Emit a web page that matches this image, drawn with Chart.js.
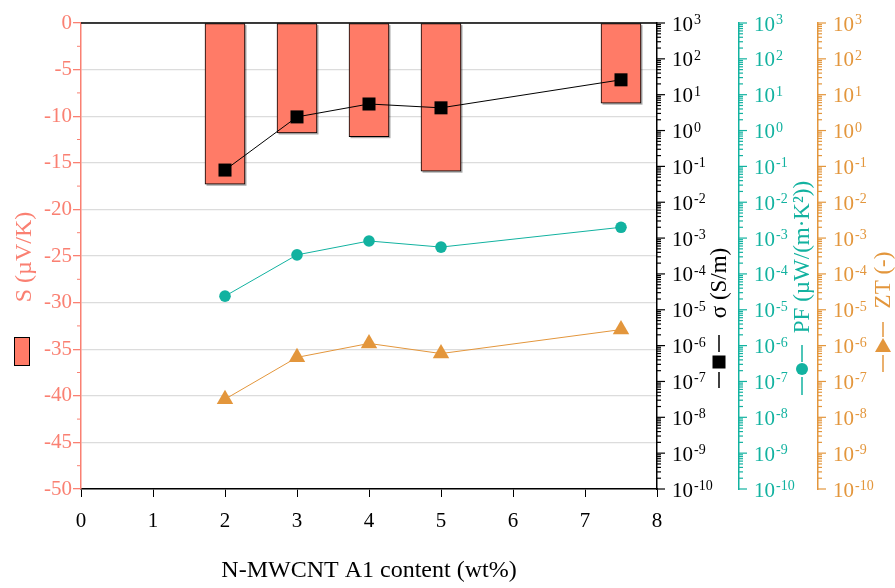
<!DOCTYPE html>
<html>
<head>
<meta charset="utf-8">
<script src="https://cdn.jsdelivr.net/npm/chart.js@4.4.1/dist/chart.umd.min.js"></script>
<style>
html, body { margin: 0; padding: 0; background: #fff; }
#wrap { width: 895px; height: 588px; }
</style>
</head>
<body>
<div id="wrap"><canvas id="chart" width="895" height="588"></canvas></div>
<script>
// values
const contents = [2, 3, 4, 5, 7.5];                         // N-MWCNT A1 content (wt%)
const seebeck = [-17.3, -11.8, -12.2, -15.9, -8.6];          // S (µV/K)
const sigma = [0.079, 2.4, 5.5, 4.3, 26];                    // σ (S/m)
const powerFactor = [2.4e-5, 3.4e-4, 8.3e-4, 5.6e-4, 2.0e-3]; // PF (µW/(m·K²))
const zt = [3.2e-8, 4.7e-7, 1.15e-6, 6.0e-7, 2.8e-6];        // ZT (-)

const xTicks = [0, 1, 2, 3, 4, 5, 6, 7, 8];
const sTicks = [0, -5, -10, -15, -20, -25, -30, -35, -40, -45, -50];
const logExponents = [3, 2, 1, 0, -1, -2, -3, -4, -5, -6, -7, -8, -9, -10];

const FONT = '"Liberation Serif", "Times New Roman", serif';
const SALMON = "#FA8072";
const BAR = "#FF7B67";
const TEAL = "#12B2A0";
const ORANGE = "#E3963C";

const pts = (ys) => contents.map((x, i) => ({ x: x, y: ys[i] }));

function vline(ctx, x, y1, y2) {
    ctx.beginPath(); ctx.moveTo(x, y1); ctx.lineTo(x, y2); ctx.stroke();
}
function hline(ctx, x1, x2, y) {
    ctx.beginPath(); ctx.moveTo(x1, y); ctx.lineTo(x2, y); ctx.stroke();
}
function rotatedText(ctx, text, cx, cy, size, color) {
    ctx.save();
    ctx.translate(cx, cy);
    ctx.rotate(-Math.PI / 2);
    ctx.font = size + "px " + FONT;
    ctx.fillStyle = color;
    ctx.textAlign = "center";
    ctx.textBaseline = "middle";
    ctx.fillText(text, 0, 0);
    ctx.restore();
}

// bar shadow (grey edge right and bottom), drawn under the bars
const shadowPlugin = {
    id: "barShadow",
    beforeDatasetsDraw(chart) {
        const ctx = chart.ctx;
        const meta = chart.getDatasetMeta(0);
        ctx.save();
        ctx.fillStyle = "rgba(0,0,0,0.35)";
        meta.data.forEach(bar => {
            const left = bar.x - bar.width / 2;
            const top = Math.min(bar.y, bar.base);
            const h = Math.abs(bar.base - bar.y);
            ctx.fillRect(left + 1.5, top + 1.5, bar.width, h);
        });
        ctx.restore();
    }
};

// ticks, labels, titles and legend keys that Chart.js cannot draw itself
const decorPlugin = {
    id: "decor",
    afterDraw(chart) {
        const ctx = chart.ctx;
        const area = chart.chartArea;
        const yS = chart.scales.yS;
        ctx.save();

        // top frame
        ctx.strokeStyle = "#000";
        ctx.lineWidth = 1.5;
        hline(ctx, area.left, area.right, area.top);

        // minor ticks on S axis
        ctx.strokeStyle = SALMON;
        ctx.lineWidth = 1;
        for (let i = 0; i < sTicks.length - 1; i++) {
            const y = yS.getPixelForValue((sTicks[i] + sTicks[i + 1]) / 2);
            hline(ctx, area.left - 4, area.left, y);
        }

        // log axes: ticks and 10^n labels
        [["ySig", "#000"], ["yPF", TEAL], ["yZT", ORANGE]].forEach(([id, color]) => {
            const sc = chart.scales[id];
            const x0 = sc.left;
            ctx.strokeStyle = color;
            ctx.fillStyle = color;
            ctx.lineWidth = 1.2;
            logExponents.forEach(e => {
                const y = sc.getPixelForValue(Math.pow(10, e));
                hline(ctx, x0, x0 + 8, y);
                if (e < 3) {
                    for (let m = 2; m <= 9; m++) {
                        const ym = sc.getPixelForValue(m * Math.pow(10, e));
                        hline(ctx, x0, x0 + 4, ym);
                    }
                }
                ctx.font = "21px " + FONT;
                ctx.textAlign = "left";
                ctx.textBaseline = "middle";
                const lx = x0 + 15;
                ctx.fillText("10", lx, y + 2);
                const w = ctx.measureText("10").width;
                ctx.font = "14px " + FONT;
                ctx.textBaseline = "alphabetic";
                ctx.fillText(String(e), lx + w + 1, y + 1);
            });
        });

        // x axis title
        ctx.font = "24px " + FONT;
        ctx.fillStyle = "#000";
        ctx.textAlign = "center";
        ctx.textBaseline = "middle";
        ctx.fillText("N-MWCNT A1 content (wt%)", (area.left + area.right) / 2, 571);

        // y titles
        rotatedText(ctx, "S (µV/K)", 25, 257, 24, SALMON);
        rotatedText(ctx, "σ (S/m)", 720, 283, 23, "#000");
        rotatedText(ctx, "PF (µW/(m·K²))", 803, 257, 23, TEAL);
        rotatedText(ctx, "ZT (-)", 884, 280, 23, ORANGE);

        // legend keys
        ctx.fillStyle = BAR;
        ctx.fillRect(14, 337, 15, 28);
        ctx.strokeStyle = "#000";
        ctx.lineWidth = 1;
        ctx.strokeRect(14.5, 337.5, 15, 28);

        ctx.lineWidth = 1.5;
        ctx.strokeStyle = "#000";
        vline(ctx, 719, 335, 352);
        vline(ctx, 719, 372, 388);
        ctx.fillStyle = "#000";
        ctx.fillRect(712.5, 355.5, 13, 13);

        ctx.strokeStyle = TEAL;
        vline(ctx, 802, 345, 362);
        vline(ctx, 802, 377, 395);
        ctx.fillStyle = TEAL;
        ctx.beginPath(); ctx.arc(802, 369, 6, 0, Math.PI * 2); ctx.fill();

        ctx.strokeStyle = ORANGE;
        vline(ctx, 883, 322, 337);
        vline(ctx, 883, 355, 372);
        ctx.fillStyle = ORANGE;
        ctx.beginPath();
        ctx.moveTo(883, 338); ctx.lineTo(891, 352); ctx.lineTo(875, 352); ctx.closePath();
        ctx.fill();

        ctx.restore();
    }
};

const logScale = (color, width) => ({
    type: "logarithmic",
    position: "right",
    min: 1e-10,
    max: 1e3,
    ticks: { display: false },
    grid: { display: false },
    border: { color: color, width: 1.5 },
    afterFit: (s) => { s.width = width; }
});

new Chart(document.getElementById("chart"), {
    data: {
        datasets: [
            {
                type: "bar",
                label: "S",
                data: pts(seebeck),
                yAxisID: "yS",
                backgroundColor: BAR,
                borderColor: "#000",
                borderWidth: 1,
                borderSkipped: false,
                barThickness: 40,
                order: 4
            },
            {
                type: "line",
                label: "σ",
                data: pts(sigma),
                yAxisID: "ySig",
                borderColor: "#000",
                borderWidth: 1,
                pointStyle: "rect",
                pointRadius: 9.2,
                pointBackgroundColor: "#000",
                pointBorderWidth: 0,
                order: 1
            },
            {
                type: "line",
                label: "PF",
                data: pts(powerFactor),
                yAxisID: "yPF",
                borderColor: TEAL,
                borderWidth: 1,
                pointStyle: "circle",
                pointRadius: 5.8,
                pointBackgroundColor: TEAL,
                pointBorderWidth: 0,
                order: 2
            },
            {
                type: "line",
                label: "ZT",
                data: pts(zt),
                yAxisID: "yZT",
                borderColor: ORANGE,
                borderWidth: 1,
                pointStyle: "triangle",
                pointRadius: 9.5,
                pointBackgroundColor: ORANGE,
                pointBorderWidth: 0,
                order: 3
            }
        ]
    },
    options: {
        responsive: false,
        animation: false,
        layout: { padding: { top: 23, left: 0, right: 0, bottom: 0 } },
        plugins: { legend: { display: false }, tooltip: { enabled: false } },
        scales: {
            x: {
                type: "linear",
                min: 0,
                max: 8,
                offset: false,
                afterBuildTicks: (s) => { s.ticks = xTicks.map(v => ({ value: v })); },
                ticks: { color: "#000", font: { family: FONT, size: 21 }, padding: 12 },
                grid: { offset: false, drawOnChartArea: false, drawTicks: true, tickLength: 8, color: "#000" },
                border: { color: "#000", width: 1.5 },
                afterFit: (s) => { s.height = 99; }
            },
            yS: {
                type: "linear",
                position: "left",
                min: -50,
                max: 0,
                afterBuildTicks: (s) => { s.ticks = sTicks.map(v => ({ value: v })); },
                ticks: { color: SALMON, font: { family: FONT, size: 21 }, padding: 1 },
                grid: { color: "#dcdcdc", lineWidth: 1.3, drawTicks: true, tickLength: 8, tickColor: SALMON },
                border: { color: SALMON, width: 1.5 },
                afterFit: (s) => { s.width = 81; }
            },
            ySig: logScale("#000", 82),
            yPF: logScale(TEAL, 79),
            yZT: logScale(ORANGE, 77)
        }
    },
    plugins: [shadowPlugin, decorPlugin]
});
</script>
</body>
</html>
